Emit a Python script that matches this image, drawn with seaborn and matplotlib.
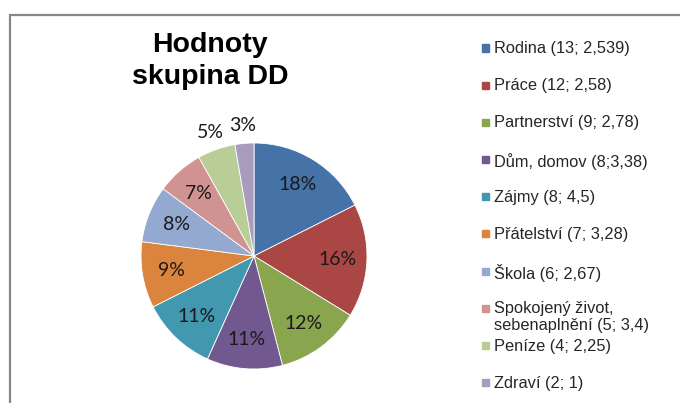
import numpy as np
import seaborn as sns
import matplotlib.pyplot as plt
from matplotlib.patches import Rectangle
from matplotlib.lines import Line2D

# data
labels = ["Rodina (13; 2,539)", "Práce (12; 2,58)", "Partnerství (9; 2,78)",
          "Dům, domov (8;3,38)", "Zájmy (8; 4,5)", "Přátelství (7; 3,28)",
          "Škola (6; 2,67)", "Spokojený život,\nsebenaplnění (5; 3,4)",
          "Peníze (4; 2,25)", "Zdraví (2; 1)"]
counts = [13, 12, 9, 8, 8, 7, 6, 5, 4, 2]
colors = ["#4572A7", "#AA4643", "#89A54E", "#71588F", "#4198AF",
          "#DB843D", "#93A9CF", "#D19392", "#B9CD96", "#A99BBD"]
title = "Hodnoty\nskupina DD"

sns.set_theme(style="white")
plt.rcParams['font.family'] = ['Liberation Sans', 'DejaVu Sans']
palette = sns.color_palette(colors)

W, H = 680, 403
fig = plt.figure(figsize=(W / 100, H / 100), dpi=100)

def fx(x):
    return x / W

def fy(y):
    return 1 - y / H

# chart border (left and top visible)
fig.add_artist(Line2D([fx(10), fx(10)], [fy(15), fy(410)], color="#878787", lw=1.6))
fig.add_artist(Line2D([fx(10), fx(690)], [fy(15), fy(15)], color="#878787", lw=1.6))

# pie
cx, cy, r = 254, 256, 113
ax = fig.add_axes([fx(cx - r), fy(cy + r), 2 * r / W, 2 * r / H])
total = sum(counts)
wedges, _ = ax.pie(counts, colors=palette, startangle=90, counterclock=False,
                   radius=1, wedgeprops=dict(edgecolor="white", linewidth=0.6))
ax.set_xlim(-1, 1)
ax.set_ylim(-1, 1)
ax.set_aspect("equal")
ax.axis("off")

for w, c in zip(wedges, counts):
    ang = np.deg2rad((w.theta1 + w.theta2) / 2)
    pct = c / total * 100
    d = 0.74 if pct > 6 else 1.16
    ax.text(d * np.cos(ang), d * np.sin(ang), f"{pct:.0f}%",
            ha="center", va="center", fontsize=14,
            family=["Lato", "DejaVu Sans"], color="#1a1a1a")

fig.text(fx(210), fy(61), title, ha="center", va="center", fontsize=20.5,
         fontweight="bold", linespacing=1.3, color="black")

# legend
y0, step = 48, 37.2
for i, (lab, col) in enumerate(zip(labels, palette)):
    y = y0 + i * step
    fig.add_artist(Rectangle((fx(482), fy(y + 3.5)), 7 / W, 7 / H, color=col,
                             transform=fig.transFigure))
    fig.text(fx(494), fy(y - 7), lab, ha="left", va="top", fontsize=11.8,
             linespacing=1.15, color="#262626")

fig.savefig("out.png", dpi=100)
